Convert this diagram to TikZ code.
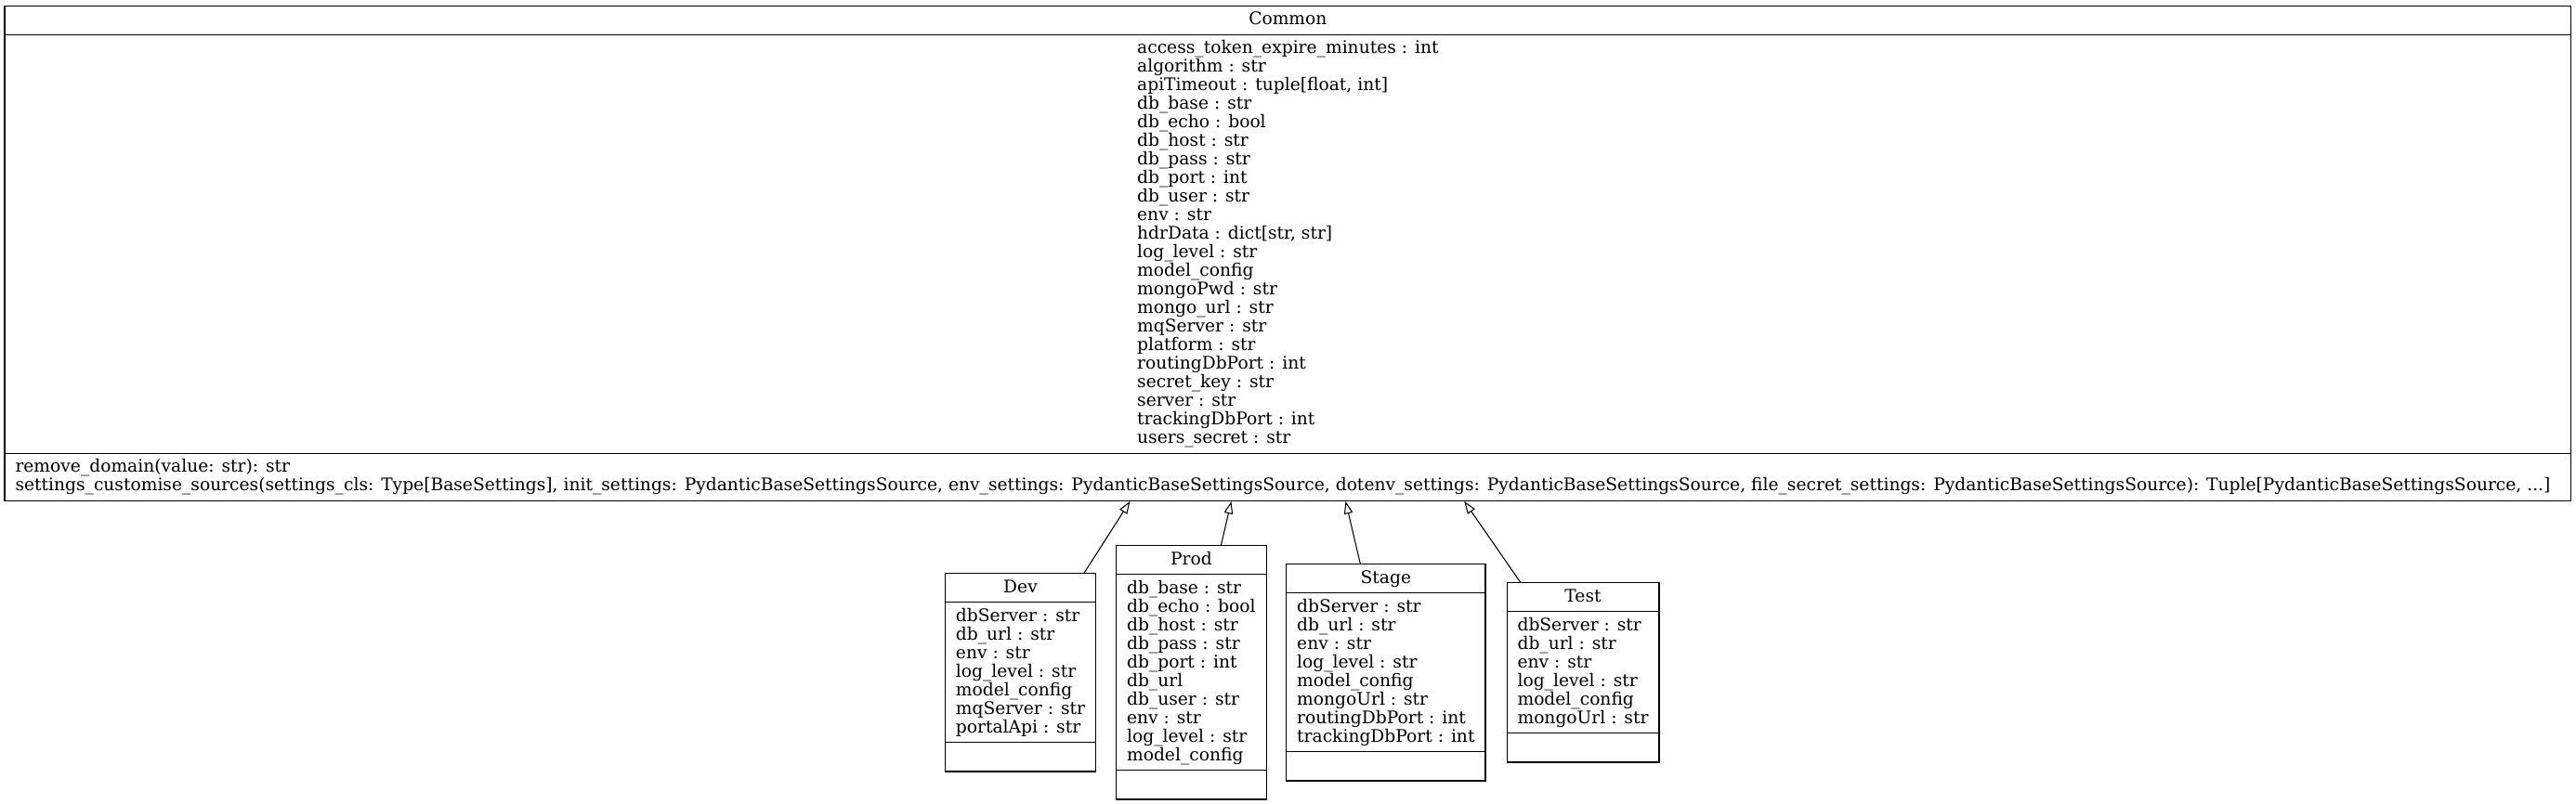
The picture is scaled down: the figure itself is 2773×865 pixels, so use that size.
\documentclass[tikz,border=0pt]{standalone}
\usepackage{fontspec}
\setmainfont{DejaVu Serif}
\usetikzlibrary{shapes.multipart,arrows.meta}
\newcommand{\rs}{\vrule height 15pt depth 5pt width 0pt}
\tikzset{
    umlclass/.style = {draw, line width=1.05pt, rectangle split,
        rectangle split parts=3,
        rectangle split part align={center,center,left},
        align=left, inner xsep=11.5pt, inner ysep=5pt, anchor=north,
        font=\fontsize{18.67pt}{20pt}\selectfont},
    inherit/.style = {draw, line width=1.05pt,
        -{Triangle[open,length=13.5pt,width=9.5pt]}}
}
\begin{document}
\begin{tikzpicture}[x=1pt, y=-1pt]
    \useasboundingbox (0,0) rectangle (2773,865);
    \node[umlclass, minimum width=2762.7pt] (common) at (1386.35,5.7) {\rs Common
        \nodepart{second}\rs access\_token\_expire\_minutes : int\\ algorithm : str\\
        apiTimeout : tuple[float, int]\\ db\_base : str\\ db\_echo : bool\\ db\_host : str\\
        db\_pass : str\\ db\_port : int\\ db\_user : str\\ env : str\\ hdrData : dict[str, str]\\
        log\_level : str\\ model\_config\\ mongoPwd : str\\ mongo\_url : str\\ mqServer : str\\
        platform : str\\ routingDbPort : int\\ secret\_key : str\\ server : str\\
        trackingDbPort : int\\ users\_secret : str\rs
        \nodepart{third}\rs remove\_domain(value: str): str\\
        settings\_customise\_sources(settings\_cls: Type[BaseSettings], init\_settings: PydanticBaseSettingsSource, env\_settings: PydanticBaseSettingsSource, dotenv\_settings: PydanticBaseSettingsSource, file\_secret\_settings: PydanticBaseSettingsSource): Tuple[PydanticBaseSettingsSource, ...]\rs};
    \node[umlclass, minimum width=161.6pt] (dev) at (1098.5,617.3) {\rs Dev
        \nodepart{second}\rs dbServer : str\\ db\_url : str\\ env : str\\ log\_level : str\\
        model\_config\\ mqServer : str\\ portalApi : str\rs
        \nodepart{third}\rs};
    \node[umlclass, minimum width=157.3pt] (prod) at (1282.35,587.3) {\rs Prod
        \nodepart{second}\rs db\_base : str\\ db\_echo : bool\\ db\_host : str\\ db\_pass : str\\
        db\_port : int\\ db\_url\\ db\_user : str\\ env : str\\ log\_level : str\\ model\_config\rs
        \nodepart{third}\rs};
    \node[umlclass, minimum width=212.3pt] (stage) at (1491.85,607.3) {\rs Stage
        \nodepart{second}\rs dbServer : str\\ db\_url : str\\ env : str\\ log\_level : str\\
        model\_config\\ mongoUrl : str\\ routingDbPort : int\\ trackingDbPort : int\rs
        \nodepart{third}\rs};
    \node[umlclass, minimum width=162.6pt] (test) at (1704,627.3) {\rs Test
        \nodepart{second}\rs dbServer : str\\ db\_url : str\\ env : str\\ log\_level : str\\
        model\_config\\ mongoUrl : str\rs
        \nodepart{third}\rs};
    \draw[inherit] (dev) -- ([xshift=1212pt]common.south west);
    \draw[inherit] (prod) -- ([xshift=1321pt]common.south west);
    \draw[inherit] (stage) -- ([xshift=1444pt]common.south west);
    \draw[inherit] (test) -- ([xshift=1571.7pt]common.south west);
\end{tikzpicture}
\end{document}
